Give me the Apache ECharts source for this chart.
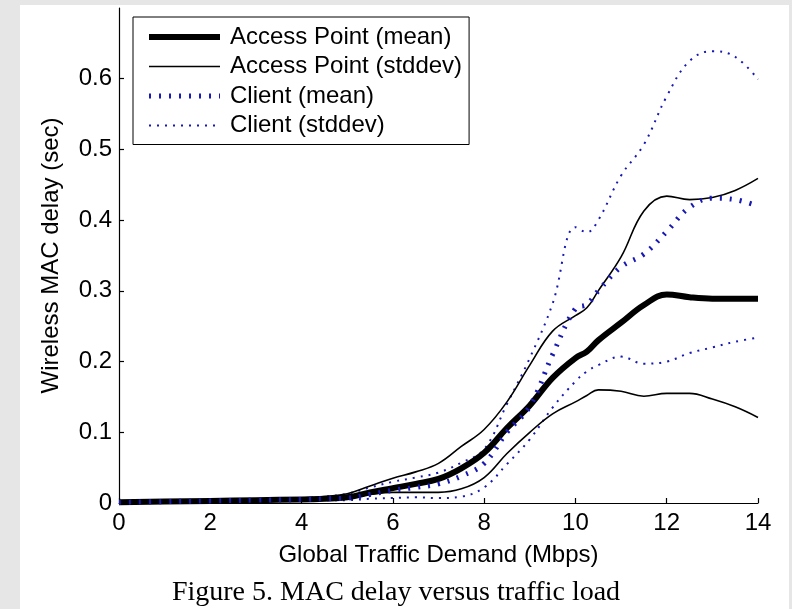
<!DOCTYPE html>
<html>
<head>
<meta charset="utf-8">
<script src="https://cdn.jsdelivr.net/npm/echarts@6/dist/echarts.min.js"></script>
<style>
html,body{margin:0;padding:0;background:#e6e6e6;}
#chart{width:792px;height:609px;}
</style>
</head>
<body>
<div id="chart"></div>
<script>
var xs =          [0,     1,     2,     3,     4,     4.5,   5,     5.5,   6,     6.5,   7,     7.5,   8,     8.5,   9,     9.5,   10,    10.25, 10.5,  11,    11.5,  12,    12.5,  13,    13.5,  14];
var apMean =      [0.001, 0.002, 0.003, 0.004, 0.005, 0.006, 0.008, 0.015, 0.021, 0.027, 0.034, 0.049, 0.071, 0.106, 0.138, 0.177, 0.205, 0.214, 0.230, 0.255, 0.280, 0.295, 0.291, 0.289, 0.289, 0.289];
var apUpper =     [0.002, 0.003, 0.004, 0.005, 0.007, 0.009, 0.013, 0.024, 0.035, 0.044, 0.056, 0.080, 0.104, 0.143, 0.195, 0.243, 0.265, 0.276, 0.300, 0.348, 0.413, 0.434, 0.429, 0.432, 0.442, 0.459];
var apLower =     [0.0005,0.001, 0.002, 0.003, 0.004, 0.005, 0.007, 0.012, 0.015, 0.015, 0.015, 0.020, 0.036, 0.070, 0.100, 0.126, 0.143, 0.152, 0.160, 0.158, 0.151, 0.155, 0.155, 0.147, 0.136, 0.121];
var clMean =      [0.001, 0.002, 0.003, 0.004, 0.005, 0.006, 0.007, 0.012, 0.018, 0.022, 0.027, 0.038, 0.056, 0.100, 0.137, 0.210, 0.275, 0.281, 0.300, 0.334, 0.352, 0.384, 0.418, 0.431, 0.429, 0.420];
var clUpper =     [0.002, 0.003, 0.004, 0.005, 0.007, 0.009, 0.013, 0.022, 0.030, 0.036, 0.043, 0.057, 0.076, 0.140, 0.205, 0.282, 0.390, 0.383, 0.400, 0.463, 0.507, 0.575, 0.625, 0.639, 0.631, 0.599];
var clLower =     [0.0005,0.001, 0.002, 0.003, 0.003, 0.004, 0.004, 0.006, 0.007, 0.008, 0.007, 0.009, 0.022, 0.055, 0.090, 0.135, 0.172, 0.186, 0.195, 0.207, 0.197, 0.200, 0.212, 0.220, 0.228, 0.234];
var yTicks = [0, 0.1, 0.2, 0.3, 0.4, 0.5, 0.6];
var xTicks = [0, 2, 4, 6, 8, 10, 12, 14];
var legendNames = ['Access Point (mean)', 'Access Point (stddev)', 'Client (mean)', 'Client (stddev)'];

function pairs(ys){ return xs.map(function(x,i){ return [x, ys[i]]; }); }

var FONT = "'Liberation Sans', Arial, Helvetica, sans-serif";
var BLUE = '#1818b4';

var styles = {
  'Access Point (mean)': {color: '#000', width: 6, type: 'solid', cap: 'butt', join: 'round'},
  'Access Point (stddev)': {color: '#000', width: 1.6, type: 'solid'},
  'Client (mean)': {color: BLUE, width: 5, type: [2, 8], cap: 'butt'},
  'Client (stddev)': {color: BLUE, width: 2, type: [2, 6], cap: 'butt'}
};

function mk(name, ys, z){
  var st = styles[name];
  return {
    name: name, type: 'line', data: pairs(ys), symbol: 'none', showSymbol: false,
    smooth: 0.4, z: z,
    lineStyle: st, itemStyle: {color: st.color}, emphasis: {disabled: true}, silent: true
  };
}

var chart = echarts.init(document.getElementById('chart'), null, {renderer: 'canvas'});
chart.setOption({
  backgroundColor: '#e6e6e6',
  animation: false,
  graphic: [
    {type: 'rect', z: -100, silent: true, shape: {x: 20, y: 5, width: 769, height: 604}, style: {fill: '#ffffff'}},
    {type: 'text', left: 'center', top: 579, z: 10, style: {text: 'Figure 5. MAC delay versus traffic load', font: "28px 'Liberation Serif', 'Times New Roman', serif", fill: '#000'}}
  ],
  grid: {left: 119, right: 34, top: 8, bottom: 106, containLabel: false},
  legend: {
    data: legendNames.map(function(n){
      var st = styles[n];
      return {name: n, itemStyle: {opacity: 0, borderWidth: 0}, lineStyle: {width: st.width, type: st.type, color: st.color, cap: st.cap || 'butt'}};
    }),
    orient: 'vertical', left: 133, top: 17,
    backgroundColor: '#fff', borderColor: '#000', borderWidth: 1,
    padding: [8, 7, 7, 13], itemGap: 5.5, itemWidth: 71, itemHeight: 14,
    textStyle: {fontFamily: FONT, fontSize: 24, color: '#000', lineHeight: 24, padding: [0, 0, 0, 5]},
    selectedMode: false
  },
  xAxis: {
    type: 'value', min: 0, max: 14, interval: 2,
    name: 'Global Traffic Demand (Mbps)', nameLocation: 'middle', nameGap: 40,
    nameTextStyle: {fontFamily: FONT, fontSize: 24, color: '#000'},
    axisLine: {onZero: false, lineStyle: {color: '#000', width: 1.2}},
    axisTick: {inside: true, length: 5, lineStyle: {color: '#000', width: 1.2}, customValues: xTicks},
    axisLabel: {fontFamily: FONT, fontSize: 24, color: '#000', margin: 8, customValues: xTicks},
    splitLine: {show: false}
  },
  yAxis: {
    type: 'value', min: 0, max: 0.7, interval: 0.1,
    name: 'Wireless MAC delay (sec)', nameLocation: 'middle', nameGap: 56,
    nameTextStyle: {fontFamily: FONT, fontSize: 24, color: '#000'},
    axisLine: {show: true, lineStyle: {color: '#000', width: 1.2}},
    axisTick: {show: true, inside: true, length: 5, lineStyle: {color: '#000', width: 1.2}, customValues: yTicks},
    axisLabel: {fontFamily: FONT, fontSize: 24, color: '#000', margin: 7, customValues: yTicks,
      formatter: function(v){ return v === 0 ? '0' : v.toFixed(1); }},
    splitLine: {show: false}
  },
  series: [
    mk('Access Point (mean)', apMean, 5),
    mk('Access Point (stddev)', apUpper, 4),
    mk('Access Point (stddev)', apLower, 4),
    mk('Client (mean)', clMean, 6),
    mk('Client (stddev)', clUpper, 3),
    mk('Client (stddev)', clLower, 3)
  ]
});
</script>
</body>
</html>
